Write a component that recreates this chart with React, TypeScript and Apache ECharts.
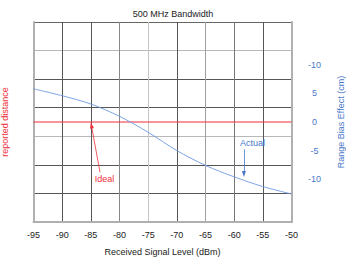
import React, { useEffect, useRef } from "react";
import * as echarts from "echarts";

const xValues = [-95, -90, -85, -80, -75, -70, -65, -60, -55, -50];
const actualBias = [5.8, 4.6, 3.15, 1.0, -1.8, -5.0, -7.6, -9.6, -11.3, -12.6];
const idealBias = [0, 0];
const idealX = [-95, -50];
const rightTickValues = [-10, -5, 0, 5, 10];
const rightTickLabels: Record<string, string> = { "-10": "-10", "-5": "-5", "0": "0", "5": "5", "10": "-10" };

const BLUE = "#4a78c8";
const LINEBLUE = "#6d9be0";
const RED = "#f0303a";

export default function App() {
  const ref = useRef<HTMLDivElement>(null);
  useEffect(() => {
    document.body.style.margin = "0";
    const chart = echarts.init(ref.current!, null, { renderer: "svg" });
    const font = "Liberation Sans, Arial, sans-serif";
    chart.setOption({
      animation: false,
      textStyle: { fontFamily: font },
      title: {
        text: "500 MHz Bandwidth",
        left: 168,
        top: 4,
        textAlign: "center",
        textStyle: { fontSize: 9, fontWeight: "normal", color: "#222", fontFamily: font },
      },
      grid: { left: 33.5, right: 54.5, top: 22, bottom: 38, containLabel: false, outerBoundsMode: "none" },
      xAxis: {
        type: "value",
        min: -95,
        max: -50,
        interval: 5,
        name: "Received Signal Level (dBm)",
        nameLocation: "middle",
        nameGap: 25,
        nameTextStyle: { fontSize: 9, color: "#222", fontFamily: font },
        axisLine: { show: true, onZero: false, lineStyle: { color: "#b0b0b0", width: 2 } },
        axisTick: { show: false },
        axisLabel: { fontSize: 9, color: "#222", margin: 8, fontFamily: font },
        splitLine: {
          show: true,
          lineStyle: {
            color: ["#b0b0b0", "#555", "#555", "#888", "#c4c4c4", "#555", "#a0a0a0", "#777", "#555", "#b0b0b0"],
            width: 1,
          },
        },
      },
      yAxis: [
        {
          type: "value",
          min: 0,
          max: 7,
          interval: 1,
          position: "left",
          name: "reported distance",
          nameLocation: "middle",
          nameGap: 24,
          nameRotate: 90,
          nameTextStyle: { fontSize: 9, color: RED, fontFamily: font },
          axisLine: { show: true, onZero: false, lineStyle: { color: "#b0b0b0", width: 2 } },
          axisTick: { show: false },
          axisLabel: { show: false },
          splitLine: {
            show: true,
            lineStyle: { color: ["#b8b8b8", "#555", "#555", "#b8b8b8", "#555", "#555", "#b8b8b8", "#666"], width: 1 },
          },
        },
        {
          type: "value",
          min: -17.5,
          max: 17.5,
          position: "right",
          name: "Range Bias Effect (cm)",
          nameLocation: "middle",
          nameGap: 45,
          nameRotate: 90,
          nameTextStyle: { fontSize: 9, color: BLUE, fontFamily: font },
          axisLine: { show: true, onZero: false, lineStyle: { color: "#b0b0b0", width: 2 } },
          axisTick: { show: false },
          splitLine: { show: false },
          axisLabel: {
            customValues: rightTickValues,
            fontSize: 9,
            color: BLUE,
            margin: 23,
            align: "center",
            fontFamily: font,
            formatter: (v: number) => rightTickLabels[String(v)] ?? String(v),
          },
        },
      ],
      series: [
        {
          type: "line",
          yAxisIndex: 1,
          data: idealX.map((x, i) => [x, idealBias[i]]),
          showSymbol: false,
          lineStyle: { color: RED, width: 1.2 },
          z: 3,
          markLine: {
            silent: true,
            symbol: ["none", "triangle"],
            symbolSize: [4, 6],
            lineStyle: { color: RED, width: 0.8, type: "solid" },
            label: { show: false },
            data: [[{ coord: [-83.4, -8.8] }, { coord: [-84.9, -0.6] }]],
          },
          markPoint: {
            silent: true,
            symbol: "rect",
            symbolSize: 0,
            label: { show: true, color: RED, fontSize: 9, fontFamily: font, formatter: "Ideal" },
            data: [{ coord: [-82.6, -10.0] }],
          },
        },
        {
          type: "line",
          yAxisIndex: 1,
          data: xValues.map((x, i) => [x, actualBias[i]]),
          smooth: 0.3,
          showSymbol: false,
          lineStyle: { color: LINEBLUE, width: 0.9 },
          z: 4,
          markLine: {
            silent: true,
            symbol: ["none", "triangle"],
            symbolSize: [4, 6],
            lineStyle: { color: BLUE, width: 0.8, type: "solid" },
            label: { show: false },
            data: [[{ coord: [-58.3, -4.8] }, { coord: [-58.3, -9.1] }]],
          },
          markPoint: {
            silent: true,
            symbol: "rect",
            symbolSize: 0,
            label: { show: true, color: BLUE, fontSize: 9, fontFamily: font, formatter: "Actual" },
            data: [{ coord: [-56.8, -3.7] }],
          },
        },
      ],
    });
    return () => chart.dispose();
  }, []);
  return <div ref={ref} style={{ width: 346, height: 260 }} />;
}
